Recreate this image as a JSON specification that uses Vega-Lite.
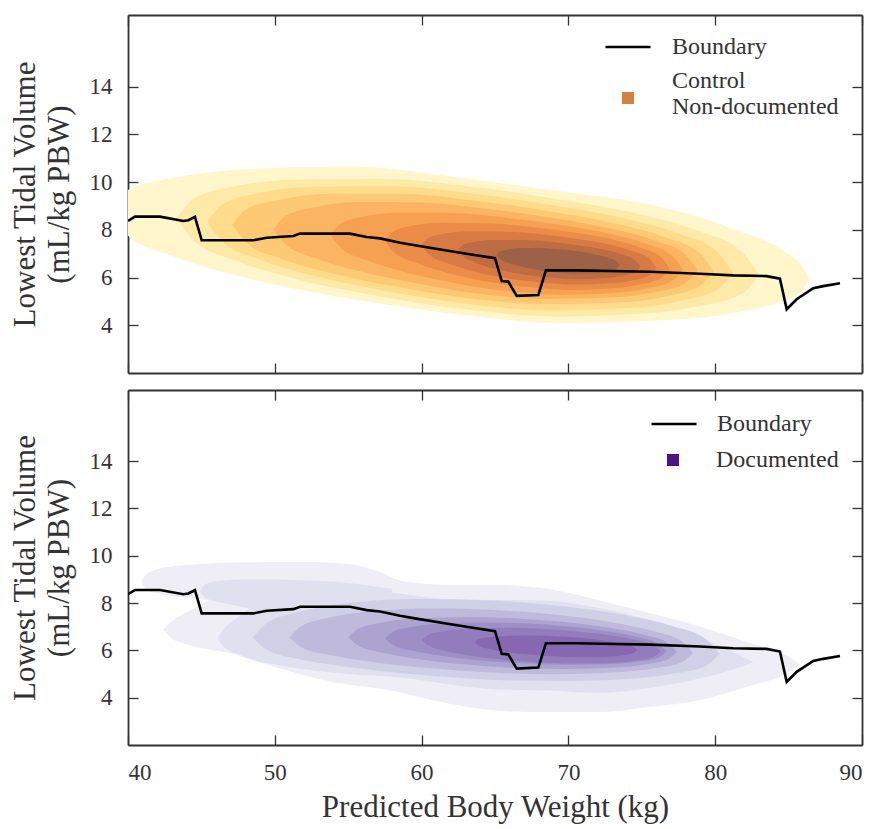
{
  "$schema": "https://vega.github.io/schema/vega-lite/v6.json",
  "background": "white",
  "padding": {"left": 9, "top": 14, "right": 5, "bottom": 5},
  "config": {
    "font": "Liberation Serif",
    "view": {"stroke": null},
    "axis": {"labelFont": "Liberation Serif", "titleFont": "Liberation Serif", "labelFontSize": 23, "titleFontSize": 31, "labelColor": "#333", "titleColor": "#333", "titleFontWeight": "normal", "grid": false, "domainColor": "#333", "domainWidth": 1.8, "tickColor": "#333", "tickWidth": 1.3, "tickSize": -10},
    "legend": {"labelFont": "Liberation Serif", "labelFontSize": 24, "labelColor": "#333", "padding": 0, "labelLimit": 400, "titlePadding": 0}
  },
  "datasets": {
    "boundary": [
      {"x": 40.0, "y": 8.37}, {"x": 40.48, "y": 8.55}, {"x": 42.18, "y": 8.55}, {"x": 43.77, "y": 8.37}, {"x": 44.11, "y": 8.4}, {"x": 44.56, "y": 8.54}, {"x": 45.02, "y": 7.56}, {"x": 48.54, "y": 7.56}, {"x": 49.45, "y": 7.67}, {"x": 51.26, "y": 7.74}, {"x": 51.72, "y": 7.84}, {"x": 55.12, "y": 7.84}, {"x": 56.26, "y": 7.7}, {"x": 57.17, "y": 7.64}, {"x": 58.53, "y": 7.46}, {"x": 59.43, "y": 7.36}, {"x": 62.62, "y": 7.04}, {"x": 65.0, "y": 6.81}, {"x": 65.46, "y": 5.85}, {"x": 65.9, "y": 5.83}, {"x": 66.48, "y": 5.23}, {"x": 67.95, "y": 5.27}, {"x": 68.47, "y": 6.3}, {"x": 70.56, "y": 6.3}, {"x": 75.56, "y": 6.24}, {"x": 78.96, "y": 6.16}, {"x": 81.23, "y": 6.09}, {"x": 83.5, "y": 6.06}, {"x": 84.41, "y": 5.95}, {"x": 84.87, "y": 4.67}, {"x": 85.55, "y": 5.09}, {"x": 86.68, "y": 5.55}, {"x": 87.36, "y": 5.64}, {"x": 88.5, "y": 5.76}
    ],
    "contours": [
      {"panel": "top", "level": 1, "poly": "t1", "x": 38.5, "lo": 8.82, "hi": 8.82},
      {"panel": "top", "level": 1, "poly": "t1", "x": 39.93, "lo": 7.79, "hi": 9.65},
      {"panel": "top", "level": 1, "poly": "t1", "x": 43.28, "lo": 6.85, "hi": 10.2},
      {"panel": "top", "level": 1, "poly": "t1", "x": 48.06, "lo": 5.98, "hi": 10.54},
      {"panel": "top", "level": 1, "poly": "t1", "x": 55.23, "lo": 5.11, "hi": 10.65},
      {"panel": "top", "level": 1, "poly": "t1", "x": 62.4, "lo": 4.46, "hi": 10.2},
      {"panel": "top", "level": 1, "poly": "t1", "x": 69.57, "lo": 4.1, "hi": 9.6},
      {"panel": "top", "level": 1, "poly": "t1", "x": 76.74, "lo": 4.22, "hi": 8.9},
      {"panel": "top", "level": 1, "poly": "t1", "x": 81.52, "lo": 4.55, "hi": 7.97},
      {"panel": "top", "level": 1, "poly": "t1", "x": 84.87, "lo": 5.09, "hi": 7.03},
      {"panel": "top", "level": 1, "poly": "t1", "x": 85.9, "lo": 5.45, "hi": 6.5},
      {"panel": "top", "level": 1, "poly": "t1", "x": 86.4, "lo": 5.95, "hi": 5.95},

      {"panel": "top", "level": 2, "poly": "t2", "x": 43.3, "lo": 8.47, "hi": 8.47},
      {"panel": "top", "level": 2, "poly": "t2", "x": 44.49, "lo": 7.55, "hi": 9.31},
      {"panel": "top", "level": 2, "poly": "t2", "x": 47.27, "lo": 6.72, "hi": 9.82},
      {"panel": "top", "level": 2, "poly": "t2", "x": 51.24, "lo": 5.97, "hi": 10.1},
      {"panel": "top", "level": 2, "poly": "t2", "x": 57.2, "lo": 5.21, "hi": 10.14},
      {"panel": "top", "level": 2, "poly": "t2", "x": 63.15, "lo": 4.65, "hi": 9.82},
      {"panel": "top", "level": 2, "poly": "t2", "x": 69.11, "lo": 4.37, "hi": 9.3},
      {"panel": "top", "level": 2, "poly": "t2", "x": 75.06, "lo": 4.49, "hi": 8.62},
      {"panel": "top", "level": 2, "poly": "t2", "x": 79.03, "lo": 4.82, "hi": 7.92},
      {"panel": "top", "level": 2, "poly": "t2", "x": 81.81, "lo": 5.32, "hi": 7.09},
      {"panel": "top", "level": 2, "poly": "t2", "x": 83.0, "lo": 6.1, "hi": 6.1},

      {"panel": "top", "level": 3, "poly": "t3", "x": 45.4, "lo": 8.32, "hi": 8.32},
      {"panel": "top", "level": 3, "poly": "t3", "x": 46.47, "lo": 7.49, "hi": 9.08},
      {"panel": "top", "level": 3, "poly": "t3", "x": 48.98, "lo": 6.75, "hi": 9.54},
      {"panel": "top", "level": 3, "poly": "t3", "x": 52.56, "lo": 6.08, "hi": 9.8},
      {"panel": "top", "level": 3, "poly": "t3", "x": 57.93, "lo": 5.39, "hi": 9.82},
      {"panel": "top", "level": 3, "poly": "t3", "x": 63.3, "lo": 4.88, "hi": 9.53},
      {"panel": "top", "level": 3, "poly": "t3", "x": 68.67, "lo": 4.62, "hi": 9.06},
      {"panel": "top", "level": 3, "poly": "t3", "x": 74.04, "lo": 4.72, "hi": 8.44},
      {"panel": "top", "level": 3, "poly": "t3", "x": 77.62, "lo": 5.02, "hi": 7.81},
      {"panel": "top", "level": 3, "poly": "t3", "x": 80.13, "lo": 5.49, "hi": 7.08},
      {"panel": "top", "level": 3, "poly": "t3", "x": 81.2, "lo": 6.19, "hi": 6.19},

      {"panel": "top", "level": 4, "poly": "t4", "x": 47.1, "lo": 8.2, "hi": 8.2},
      {"panel": "top", "level": 4, "poly": "t4", "x": 48.08, "lo": 7.47, "hi": 8.87},
      {"panel": "top", "level": 4, "poly": "t4", "x": 50.38, "lo": 6.8, "hi": 9.27},
      {"panel": "top", "level": 4, "poly": "t4", "x": 53.66, "lo": 6.21, "hi": 9.51},
      {"panel": "top", "level": 4, "poly": "t4", "x": 58.58, "lo": 5.58, "hi": 9.51},
      {"panel": "top", "level": 4, "poly": "t4", "x": 63.5, "lo": 5.11, "hi": 9.23},
      {"panel": "top", "level": 4, "poly": "t4", "x": 68.42, "lo": 4.88, "hi": 8.81},
      {"panel": "top", "level": 4, "poly": "t4", "x": 73.34, "lo": 4.95, "hi": 8.24},
      {"panel": "top", "level": 4, "poly": "t4", "x": 76.62, "lo": 5.21, "hi": 7.68},
      {"panel": "top", "level": 4, "poly": "t4", "x": 78.92, "lo": 5.63, "hi": 7.03},
      {"panel": "top", "level": 4, "poly": "t4", "x": 79.9, "lo": 6.25, "hi": 6.25},

      {"panel": "top", "level": 5, "poly": "t5", "x": 49.9, "lo": 8.01, "hi": 8.01},
      {"panel": "top", "level": 5, "poly": "t5", "x": 50.77, "lo": 7.37, "hi": 8.6},
      {"panel": "top", "level": 5, "poly": "t5", "x": 52.79, "lo": 6.81, "hi": 8.96},
      {"panel": "top", "level": 5, "poly": "t5", "x": 55.68, "lo": 6.28, "hi": 9.16},
      {"panel": "top", "level": 5, "poly": "t5", "x": 60.02, "lo": 5.72, "hi": 9.14},
      {"panel": "top", "level": 5, "poly": "t5", "x": 64.35, "lo": 5.29, "hi": 8.88},
      {"panel": "top", "level": 5, "poly": "t5", "x": 68.69, "lo": 5.1, "hi": 8.52},
      {"panel": "top", "level": 5, "poly": "t5", "x": 73.02, "lo": 5.16, "hi": 8.03},
      {"panel": "top", "level": 5, "poly": "t5", "x": 75.91, "lo": 5.39, "hi": 7.54},
      {"panel": "top", "level": 5, "poly": "t5", "x": 77.93, "lo": 5.75, "hi": 6.97},
      {"panel": "top", "level": 5, "poly": "t5", "x": 78.8, "lo": 6.3, "hi": 6.3},

      {"panel": "top", "level": 6, "poly": "t6", "x": 53.8, "lo": 7.77, "hi": 7.77},
      {"panel": "top", "level": 6, "poly": "t6", "x": 54.52, "lo": 7.23, "hi": 8.27},
      {"panel": "top", "level": 6, "poly": "t6", "x": 56.2, "lo": 6.73, "hi": 8.58},
      {"panel": "top", "level": 6, "poly": "t6", "x": 58.6, "lo": 6.27, "hi": 8.73},
      {"panel": "top", "level": 6, "poly": "t6", "x": 62.2, "lo": 5.77, "hi": 8.7},
      {"panel": "top", "level": 6, "poly": "t6", "x": 65.8, "lo": 5.43, "hi": 8.5},
      {"panel": "top", "level": 6, "poly": "t6", "x": 69.4, "lo": 5.28, "hi": 8.21},
      {"panel": "top", "level": 6, "poly": "t6", "x": 73.0, "lo": 5.35, "hi": 7.81},
      {"panel": "top", "level": 6, "poly": "t6", "x": 75.4, "lo": 5.55, "hi": 7.39},
      {"panel": "top", "level": 6, "poly": "t6", "x": 77.08, "lo": 5.87, "hi": 6.91},
      {"panel": "top", "level": 6, "poly": "t6", "x": 77.8, "lo": 6.34, "hi": 6.34},

      {"panel": "top", "level": 7, "poly": "t7", "x": 57.5, "lo": 7.53, "hi": 7.53},
      {"panel": "top", "level": 7, "poly": "t7", "x": 58.08, "lo": 7.07, "hi": 7.93},
      {"panel": "top", "level": 7, "poly": "t7", "x": 59.44, "lo": 6.66, "hi": 8.18},
      {"panel": "top", "level": 7, "poly": "t7", "x": 61.38, "lo": 6.26, "hi": 8.3},
      {"panel": "top", "level": 7, "poly": "t7", "x": 64.29, "lo": 5.84, "hi": 8.27},
      {"panel": "top", "level": 7, "poly": "t7", "x": 67.2, "lo": 5.6, "hi": 8.14},
      {"panel": "top", "level": 7, "poly": "t7", "x": 70.11, "lo": 5.48, "hi": 7.91},
      {"panel": "top", "level": 7, "poly": "t7", "x": 73.02, "lo": 5.55, "hi": 7.59},
      {"panel": "top", "level": 7, "poly": "t7", "x": 74.96, "lo": 5.72, "hi": 7.24},
      {"panel": "top", "level": 7, "poly": "t7", "x": 76.32, "lo": 5.98, "hi": 6.85},
      {"panel": "top", "level": 7, "poly": "t7", "x": 76.9, "lo": 6.37, "hi": 6.37},

      {"panel": "top", "level": 8, "poly": "t8", "x": 60.0, "lo": 7.35, "hi": 7.35},
      {"panel": "top", "level": 8, "poly": "t8", "x": 60.48, "lo": 6.98, "hi": 7.67},
      {"panel": "top", "level": 8, "poly": "t8", "x": 61.6, "lo": 6.64, "hi": 7.85},
      {"panel": "top", "level": 8, "poly": "t8", "x": 63.2, "lo": 6.32, "hi": 7.93},
      {"panel": "top", "level": 8, "poly": "t8", "x": 65.6, "lo": 5.99, "hi": 7.92},
      {"panel": "top", "level": 8, "poly": "t8", "x": 68.0, "lo": 5.8, "hi": 7.82},
      {"panel": "top", "level": 8, "poly": "t8", "x": 70.4, "lo": 5.71, "hi": 7.64},
      {"panel": "top", "level": 8, "poly": "t8", "x": 72.8, "lo": 5.76, "hi": 7.38},
      {"panel": "top", "level": 8, "poly": "t8", "x": 74.4, "lo": 5.89, "hi": 7.1},
      {"panel": "top", "level": 8, "poly": "t8", "x": 75.52, "lo": 6.1, "hi": 6.79},
      {"panel": "top", "level": 8, "poly": "t8", "x": 76.0, "lo": 6.41, "hi": 6.41},

      {"panel": "top", "level": 9, "poly": "t9", "x": 62.5, "lo": 7.15, "hi": 7.15},
      {"panel": "top", "level": 9, "poly": "t9", "x": 62.87, "lo": 6.87, "hi": 7.38},
      {"panel": "top", "level": 9, "poly": "t9", "x": 63.74, "lo": 6.61, "hi": 7.51},
      {"panel": "top", "level": 9, "poly": "t9", "x": 64.98, "lo": 6.37, "hi": 7.57},
      {"panel": "top", "level": 9, "poly": "t9", "x": 66.84, "lo": 6.14, "hi": 7.57},
      {"panel": "top", "level": 9, "poly": "t9", "x": 68.7, "lo": 6.0, "hi": 7.5},
      {"panel": "top", "level": 9, "poly": "t9", "x": 70.56, "lo": 5.93, "hi": 7.36},
      {"panel": "top", "level": 9, "poly": "t9", "x": 72.42, "lo": 5.97, "hi": 7.17},
      {"panel": "top", "level": 9, "poly": "t9", "x": 73.66, "lo": 6.07, "hi": 6.97},
      {"panel": "top", "level": 9, "poly": "t9", "x": 74.53, "lo": 6.22, "hi": 6.73},
      {"panel": "top", "level": 9, "poly": "t9", "x": 74.9, "lo": 6.45, "hi": 6.45},

      {"panel": "top", "level": 10, "poly": "t10", "x": 65.1, "lo": 6.94, "hi": 6.94},
      {"panel": "top", "level": 10, "poly": "t10", "x": 65.35, "lo": 6.77, "hi": 7.1},
      {"panel": "top", "level": 10, "poly": "t10", "x": 65.94, "lo": 6.61, "hi": 7.19},
      {"panel": "top", "level": 10, "poly": "t10", "x": 66.78, "lo": 6.46, "hi": 7.24},
      {"panel": "top", "level": 10, "poly": "t10", "x": 68.04, "lo": 6.31, "hi": 7.24},
      {"panel": "top", "level": 10, "poly": "t10", "x": 69.3, "lo": 6.21, "hi": 7.18},
      {"panel": "top", "level": 10, "poly": "t10", "x": 70.56, "lo": 6.17, "hi": 7.1},
      {"panel": "top", "level": 10, "poly": "t10", "x": 71.82, "lo": 6.19, "hi": 6.97},
      {"panel": "top", "level": 10, "poly": "t10", "x": 72.66, "lo": 6.26, "hi": 6.84},
      {"panel": "top", "level": 10, "poly": "t10", "x": 73.25, "lo": 6.36, "hi": 6.69},
      {"panel": "top", "level": 10, "poly": "t10", "x": 73.5, "lo": 6.51, "hi": 6.51},

      {"panel": "bottom", "level": 1, "poly": "b1a", "x": 40.9, "lo": 8.9, "hi": 8.9},
      {"panel": "bottom", "level": 1, "poly": "b1a", "x": 41.3, "lo": 8.55, "hi": 9.25},
      {"panel": "bottom", "level": 1, "poly": "b1a", "x": 42.5, "lo": 8.35, "hi": 9.5},
      {"panel": "bottom", "level": 1, "poly": "b1a", "x": 45.0, "lo": 8.15, "hi": 9.65},
      {"panel": "bottom", "level": 1, "poly": "b1a", "x": 48.0, "lo": 7.9, "hi": 9.72},
      {"panel": "bottom", "level": 1, "poly": "b1a", "x": 52.0, "lo": 7.6, "hi": 9.73},
      {"panel": "bottom", "level": 1, "poly": "b1a", "x": 55.0, "lo": 7.3, "hi": 9.65},
      {"panel": "bottom", "level": 1, "poly": "b1a", "x": 57.0, "lo": 7.0, "hi": 9.35},
      {"panel": "bottom", "level": 1, "poly": "b1a", "x": 58.5, "lo": 6.8, "hi": 8.95},
      {"panel": "bottom", "level": 1, "poly": "b1a", "x": 60.0, "lo": 6.8, "hi": 8.8},
      {"panel": "bottom", "level": 1, "poly": "b1b", "x": 42.4, "lo": 6.87, "hi": 6.87},
      {"panel": "bottom", "level": 1, "poly": "b1b", "x": 43.0, "lo": 6.5, "hi": 7.25},
      {"panel": "bottom", "level": 1, "poly": "b1b", "x": 44.0, "lo": 6.25, "hi": 7.6},
      {"panel": "bottom", "level": 1, "poly": "b1b", "x": 46.8, "lo": 5.9, "hi": 8.5},
      {"panel": "bottom", "level": 1, "poly": "b1b", "x": 50.0, "lo": 5.3, "hi": 9.0},
      {"panel": "bottom", "level": 1, "poly": "b1b", "x": 53.6, "lo": 4.7, "hi": 9.3},
      {"panel": "bottom", "level": 1, "poly": "b1b", "x": 58.2, "lo": 4.27, "hi": 8.95},
      {"panel": "bottom", "level": 1, "poly": "b1b", "x": 61.8, "lo": 3.75, "hi": 8.76},
      {"panel": "bottom", "level": 1, "poly": "b1b", "x": 65.2, "lo": 3.45, "hi": 8.76},
      {"panel": "bottom", "level": 1, "poly": "b1b", "x": 68.6, "lo": 3.39, "hi": 8.6},
      {"panel": "bottom", "level": 1, "poly": "b1b", "x": 72.0, "lo": 3.39, "hi": 8.13},
      {"panel": "bottom", "level": 1, "poly": "b1b", "x": 75.4, "lo": 3.6, "hi": 7.6},
      {"panel": "bottom", "level": 1, "poly": "b1b", "x": 79.0, "lo": 3.9, "hi": 7.0},
      {"panel": "bottom", "level": 1, "poly": "b1b", "x": 82.4, "lo": 4.5, "hi": 6.3},
      {"panel": "bottom", "level": 1, "poly": "b1b", "x": 84.8, "lo": 5.0, "hi": 5.8},
      {"panel": "bottom", "level": 1, "poly": "b1b", "x": 85.8, "lo": 5.4, "hi": 5.4},

      {"panel": "bottom", "level": 2, "poly": "b2a", "x": 44.9, "lo": 8.5, "hi": 8.5},
      {"panel": "bottom", "level": 2, "poly": "b2a", "x": 45.3, "lo": 8.2, "hi": 8.8},
      {"panel": "bottom", "level": 2, "poly": "b2a", "x": 46.5, "lo": 8.0, "hi": 8.95},
      {"panel": "bottom", "level": 2, "poly": "b2a", "x": 48.5, "lo": 7.75, "hi": 9.0},
      {"panel": "bottom", "level": 2, "poly": "b2a", "x": 51.4, "lo": 7.5, "hi": 8.97},
      {"panel": "bottom", "level": 2, "poly": "b2a", "x": 55.0, "lo": 7.2, "hi": 8.85},
      {"panel": "bottom", "level": 2, "poly": "b2a", "x": 58.0, "lo": 7.0, "hi": 8.6},
      {"panel": "bottom", "level": 2, "poly": "b2b", "x": 46.1, "lo": 6.5, "hi": 6.5},
      {"panel": "bottom", "level": 2, "poly": "b2b", "x": 46.6, "lo": 6.1, "hi": 6.95},
      {"panel": "bottom", "level": 2, "poly": "b2b", "x": 47.5, "lo": 5.85, "hi": 7.4},
      {"panel": "bottom", "level": 2, "poly": "b2b", "x": 48.5, "lo": 5.6, "hi": 7.85},
      {"panel": "bottom", "level": 2, "poly": "b2b", "x": 50.0, "lo": 5.4, "hi": 8.3},
      {"panel": "bottom", "level": 2, "poly": "b2b", "x": 52.0, "lo": 5.2, "hi": 8.6},
      {"panel": "bottom", "level": 2, "poly": "b2b", "x": 55.0, "lo": 5.0, "hi": 8.6},
      {"panel": "bottom", "level": 2, "poly": "b2b", "x": 58.4, "lo": 4.86, "hi": 8.4},
      {"panel": "bottom", "level": 2, "poly": "b2b", "x": 62.0, "lo": 4.55, "hi": 8.15},
      {"panel": "bottom", "level": 2, "poly": "b2b", "x": 65.2, "lo": 4.35, "hi": 8.13},
      {"panel": "bottom", "level": 2, "poly": "b2b", "x": 68.6, "lo": 4.3, "hi": 8.1},
      {"panel": "bottom", "level": 2, "poly": "b2b", "x": 72.0, "lo": 4.2, "hi": 7.8},
      {"panel": "bottom", "level": 2, "poly": "b2b", "x": 75.4, "lo": 4.4, "hi": 7.3},
      {"panel": "bottom", "level": 2, "poly": "b2b", "x": 78.5, "lo": 4.75, "hi": 6.65},
      {"panel": "bottom", "level": 2, "poly": "b2b", "x": 81.0, "lo": 5.15, "hi": 6.0},
      {"panel": "bottom", "level": 2, "poly": "b2b", "x": 82.6, "lo": 5.5, "hi": 5.5},

      {"panel": "bottom", "level": 3, "poly": "b3", "x": 48.5, "lo": 6.54, "hi": 6.54},
      {"panel": "bottom", "level": 3, "poly": "b3", "x": 49.45, "lo": 6.02, "hi": 7.16},
      {"panel": "bottom", "level": 3, "poly": "b3", "x": 51.68, "lo": 5.62, "hi": 7.63},
      {"panel": "bottom", "level": 3, "poly": "b3", "x": 54.86, "lo": 5.31, "hi": 7.99},
      {"panel": "bottom", "level": 3, "poly": "b3", "x": 59.63, "lo": 4.98, "hi": 8.17},
      {"panel": "bottom", "level": 3, "poly": "b3", "x": 64.4, "lo": 4.77, "hi": 8.12},
      {"panel": "bottom", "level": 3, "poly": "b3", "x": 69.17, "lo": 4.7, "hi": 7.89},
      {"panel": "bottom", "level": 3, "poly": "b3", "x": 73.94, "lo": 4.79, "hi": 7.47},
      {"panel": "bottom", "level": 3, "poly": "b3", "x": 77.12, "lo": 5.01, "hi": 7.02},
      {"panel": "bottom", "level": 3, "poly": "b3", "x": 79.35, "lo": 5.34, "hi": 6.48},
      {"panel": "bottom", "level": 3, "poly": "b3", "x": 80.3, "lo": 5.84, "hi": 5.84},

      {"panel": "bottom", "level": 4, "poly": "b4", "x": 51.0, "lo": 6.55, "hi": 6.55},
      {"panel": "bottom", "level": 4, "poly": "b4", "x": 51.83, "lo": 6.12, "hi": 7.03},
      {"panel": "bottom", "level": 4, "poly": "b4", "x": 53.75, "lo": 5.8, "hi": 7.39},
      {"panel": "bottom", "level": 4, "poly": "b4", "x": 56.5, "lo": 5.52, "hi": 7.64},
      {"panel": "bottom", "level": 4, "poly": "b4", "x": 60.63, "lo": 5.24, "hi": 7.77},
      {"panel": "bottom", "level": 4, "poly": "b4", "x": 64.75, "lo": 5.06, "hi": 7.71},
      {"panel": "bottom", "level": 4, "poly": "b4", "x": 68.88, "lo": 4.99, "hi": 7.52},
      {"panel": "bottom", "level": 4, "poly": "b4", "x": 73.0, "lo": 5.06, "hi": 7.18},
      {"panel": "bottom", "level": 4, "poly": "b4", "x": 75.75, "lo": 5.23, "hi": 6.82},
      {"panel": "bottom", "level": 4, "poly": "b4", "x": 77.68, "lo": 5.49, "hi": 6.4},
      {"panel": "bottom", "level": 4, "poly": "b4", "x": 78.5, "lo": 5.9, "hi": 5.9},

      {"panel": "bottom", "level": 5, "poly": "b5", "x": 55.0, "lo": 6.55, "hi": 6.55},
      {"panel": "bottom", "level": 5, "poly": "b5", "x": 55.67, "lo": 6.2, "hi": 6.91},
      {"panel": "bottom", "level": 5, "poly": "b5", "x": 57.24, "lo": 5.91, "hi": 7.17},
      {"panel": "bottom", "level": 5, "poly": "b5", "x": 59.48, "lo": 5.66, "hi": 7.34},
      {"panel": "bottom", "level": 5, "poly": "b5", "x": 62.84, "lo": 5.41, "hi": 7.41},
      {"panel": "bottom", "level": 5, "poly": "b5", "x": 66.2, "lo": 5.26, "hi": 7.36},
      {"panel": "bottom", "level": 5, "poly": "b5", "x": 69.56, "lo": 5.21, "hi": 7.21},
      {"panel": "bottom", "level": 5, "poly": "b5", "x": 72.92, "lo": 5.26, "hi": 6.94},
      {"panel": "bottom", "level": 5, "poly": "b5", "x": 75.16, "lo": 5.4, "hi": 6.66},
      {"panel": "bottom", "level": 5, "poly": "b5", "x": 76.73, "lo": 5.61, "hi": 6.32},
      {"panel": "bottom", "level": 5, "poly": "b5", "x": 77.4, "lo": 5.93, "hi": 5.93},

      {"panel": "bottom", "level": 6, "poly": "b6", "x": 57.5, "lo": 6.5, "hi": 6.5},
      {"panel": "bottom", "level": 6, "poly": "b6", "x": 58.08, "lo": 6.22, "hi": 6.8},
      {"panel": "bottom", "level": 6, "poly": "b6", "x": 59.42, "lo": 5.98, "hi": 7.0},
      {"panel": "bottom", "level": 6, "poly": "b6", "x": 61.34, "lo": 5.77, "hi": 7.13},
      {"panel": "bottom", "level": 6, "poly": "b6", "x": 64.22, "lo": 5.56, "hi": 7.18},
      {"panel": "bottom", "level": 6, "poly": "b6", "x": 67.1, "lo": 5.44, "hi": 7.14},
      {"panel": "bottom", "level": 6, "poly": "b6", "x": 69.98, "lo": 5.39, "hi": 7.01},
      {"panel": "bottom", "level": 6, "poly": "b6", "x": 72.86, "lo": 5.42, "hi": 6.78},
      {"panel": "bottom", "level": 6, "poly": "b6", "x": 74.78, "lo": 5.53, "hi": 6.55},
      {"panel": "bottom", "level": 6, "poly": "b6", "x": 76.12, "lo": 5.69, "hi": 6.27},
      {"panel": "bottom", "level": 6, "poly": "b6", "x": 76.7, "lo": 5.95, "hi": 5.95},

      {"panel": "bottom", "level": 7, "poly": "b7", "x": 60.0, "lo": 6.45, "hi": 6.45},
      {"panel": "bottom", "level": 7, "poly": "b7", "x": 60.49, "lo": 6.19, "hi": 6.67},
      {"panel": "bottom", "level": 7, "poly": "b7", "x": 61.63, "lo": 5.97, "hi": 6.82},
      {"panel": "bottom", "level": 7, "poly": "b7", "x": 63.26, "lo": 5.78, "hi": 6.91},
      {"panel": "bottom", "level": 7, "poly": "b7", "x": 65.71, "lo": 5.59, "hi": 6.95},
      {"panel": "bottom", "level": 7, "poly": "b7", "x": 68.15, "lo": 5.49, "hi": 6.91},
      {"panel": "bottom", "level": 7, "poly": "b7", "x": 70.6, "lo": 5.45, "hi": 6.8},
      {"panel": "bottom", "level": 7, "poly": "b7", "x": 73.04, "lo": 5.48, "hi": 6.62},
      {"panel": "bottom", "level": 7, "poly": "b7", "x": 74.67, "lo": 5.58, "hi": 6.43},
      {"panel": "bottom", "level": 7, "poly": "b7", "x": 75.81, "lo": 5.73, "hi": 6.22},
      {"panel": "bottom", "level": 7, "poly": "b7", "x": 76.3, "lo": 5.96, "hi": 5.96},

      {"panel": "bottom", "level": 8, "poly": "b8", "x": 63.6, "lo": 6.34, "hi": 6.34},
      {"panel": "bottom", "level": 8, "poly": "b8", "x": 63.93, "lo": 6.18, "hi": 6.48},
      {"panel": "bottom", "level": 8, "poly": "b8", "x": 64.71, "lo": 6.05, "hi": 6.56},
      {"panel": "bottom", "level": 8, "poly": "b8", "x": 65.82, "lo": 5.92, "hi": 6.61},
      {"panel": "bottom", "level": 8, "poly": "b8", "x": 67.49, "lo": 5.81, "hi": 6.63},
      {"panel": "bottom", "level": 8, "poly": "b8", "x": 69.15, "lo": 5.74, "hi": 6.6},
      {"panel": "bottom", "level": 8, "poly": "b8", "x": 70.82, "lo": 5.71, "hi": 6.53},
      {"panel": "bottom", "level": 8, "poly": "b8", "x": 72.48, "lo": 5.72, "hi": 6.41},
      {"panel": "bottom", "level": 8, "poly": "b8", "x": 73.59, "lo": 5.78, "hi": 6.29},
      {"panel": "bottom", "level": 8, "poly": "b8", "x": 74.37, "lo": 5.87, "hi": 6.16},
      {"panel": "bottom", "level": 8, "poly": "b8", "x": 74.7, "lo": 6.01, "hi": 6.01}
    ]
  },
  "spacing": 15,
  "resolve": {"scale": {"fill": "independent", "opacity": "independent", "stroke": "independent"}},
  "vconcat": [
    {
      "width": 734,
      "height": 358,
      "resolve": {"axis": {"x": "independent", "y": "independent"}},
      "layer": [
        {
          "data": {"name": "contours"},
          "transform": [{"filter": "datum.panel === 'top'"}],
          "mark": {"type": "area", "interpolate": "monotone", "clip": true},
          "encoding": {
            "x": {"field": "x", "type": "quantitative", "scale": {"domain": [40, 90], "nice": false, "zero": false}, "axis": {"orient": "bottom", "values": [40, 50, 60, 70, 80, 90], "labels": false, "title": null}},
            "y": {"field": "lo", "type": "quantitative", "scale": {"domain": [2, 17], "nice": false, "zero": false}, "axis": {"values": [4, 6, 8, 10, 12, 14], "title": ["Lowest Tidal Volume", "(mL/kg PBW)"], "titleLineHeight": 34, "titlePadding": 14, "labelPadding": 26, "labelFont": "Liberation Serif", "titleFont": "Liberation Serif"}},
            "y2": {"field": "hi"},
            "detail": {"field": "poly"},
            "fill": {"field": "level", "type": "ordinal", "scale": {"domain": [1, 2, 3, 4, 5, 6, 7, 8, 9, 10], "range": ["#fff6cc", "#feeaa8", "#fedc8c", "#fdc974", "#fbb462", "#f6a052", "#eb8c49", "#d97a44", "#bd6c44", "#9c6146"]}, "legend": null},
            "opacity": {"datum": "Control|Non-documented", "type": "nominal", "scale": {"range": [1]}, "legend": {"orient": "none", "legendX": 488, "legendY": 71, "title": null, "symbolType": "square", "symbolSize": 144, "symbolFillColor": "#d2843f", "symbolStrokeColor": "#d2843f", "symbolStrokeWidth": 0, "labelOffset": 32, "labelExpr": "split(datum.label, '|')", "labelLineHeight": 28, "encode": {"labels": {"update": {"dy": {"value": -17}}}}}}
          }
        },
        {
          "data": {"name": "boundary"},
          "mark": {"type": "line", "strokeWidth": 2.6, "clip": true},
          "encoding": {
            "x": {"field": "x", "type": "quantitative", "axis": {"orient": "top", "values": [40, 50, 60, 70, 80, 90], "labels": false, "title": null}},
            "y": {"field": "y", "type": "quantitative", "axis": {"orient": "right", "values": [4, 6, 8, 10, 12, 14], "labels": false, "title": null}},
            "stroke": {"datum": "Boundary", "type": "nominal", "scale": {"range": ["black"]}, "legend": {"orient": "none", "legendX": 476, "legendY": 8, "title": null, "symbolType": "stroke", "symbolSize": 2025, "symbolStrokeWidth": 2.6, "labelOffset": 20}}
          }
        }
      ]
    },
    {
      "width": 734,
      "height": 355,
      "resolve": {"axis": {"x": "independent", "y": "independent"}},
      "layer": [
        {
          "data": {"name": "contours"},
          "transform": [{"filter": "datum.panel === 'bottom'"}],
          "mark": {"type": "area", "interpolate": "monotone", "clip": true},
          "encoding": {
            "x": {"field": "x", "type": "quantitative", "scale": {"domain": [40, 90], "nice": false, "zero": false}, "axis": {"orient": "bottom", "values": [40, 50, 60, 70, 80, 90], "title": "Predicted Body Weight (kg)", "labelPadding": 26, "titlePadding": 8, "labelFont": "Liberation Serif", "titleFont": "Liberation Serif"}},
            "y": {"field": "lo", "type": "quantitative", "scale": {"domain": [2, 17], "nice": false, "zero": false}, "axis": {"values": [4, 6, 8, 10, 12, 14], "title": ["Lowest Tidal Volume", "(mL/kg PBW)"], "titleLineHeight": 34, "titlePadding": 14, "labelPadding": 26, "labelFont": "Liberation Serif", "titleFont": "Liberation Serif"}},
            "y2": {"field": "hi"},
            "detail": {"field": "poly"},
            "fill": {"field": "level", "type": "ordinal", "scale": {"domain": [1, 2, 3, 4, 5, 6, 7, 8], "range": ["#efeef6", "#e1e0ee", "#d1cfe6", "#bfbadb", "#aca3d0", "#9d8fc6", "#927cbc", "#8767b1"]}, "legend": null},
            "opacity": {"datum": "Documented", "type": "nominal", "scale": {"range": [1]}, "legend": {"orient": "none", "legendX": 533, "legendY": 58, "title": null, "symbolType": "square", "symbolSize": 144, "symbolFillColor": "#4a1486", "symbolStrokeColor": "#4a1486", "symbolStrokeWidth": 0, "labelOffset": 31}}
          }
        },
        {
          "data": {"name": "boundary"},
          "mark": {"type": "line", "strokeWidth": 2.6, "clip": true},
          "encoding": {
            "x": {"field": "x", "type": "quantitative", "axis": {"orient": "top", "values": [40, 50, 60, 70, 80, 90], "labels": false, "title": null}},
            "y": {"field": "y", "type": "quantitative", "axis": {"orient": "right", "values": [4, 6, 8, 10, 12, 14], "labels": false, "title": null}},
            "stroke": {"datum": "Boundary", "type": "nominal", "scale": {"range": ["black"]}, "legend": {"orient": "none", "legendX": 522, "legendY": 10, "title": null, "symbolType": "stroke", "symbolSize": 2025, "symbolStrokeWidth": 2.6, "labelOffset": 19}}
          }
        }
      ]
    }
  ]
}
